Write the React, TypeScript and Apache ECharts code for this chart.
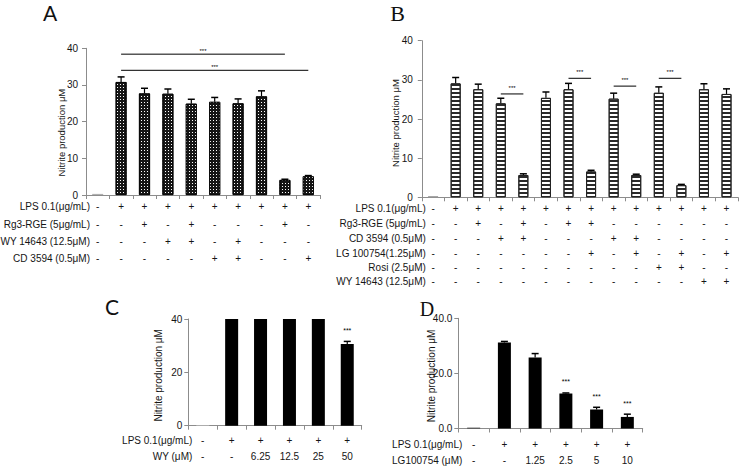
import React, { useEffect, useRef } from 'react';
import * as echarts from 'echarts';

// ---------- Panel A ----------
const valuesA = [0.3, 30.8, 27.7, 27.6, 24.9, 25.4, 25.0, 26.9, 4.1, 5.1];
const errorsA = [0, 1.4, 1.4, 1.3, 1.2, 1.2, 1.2, 1.5, 0.2, 0.2];
const starsA = ['', '', '', '', '', '', '', '', '', ''];
const rowNamesA = ['LPS 0.1(μg/mL)', 'Rg3-RGE (5μg/mL)', 'WY 14643 (12.5μM)', 'CD 3594 (0.5μM)'];
const rowsA = [
  ['-', '+', '+', '+', '+', '+', '+', '+', '+', '+'],
  ['-', '-', '+', '-', '+', '-', '-', '-', '+', '-'],
  ['-', '-', '-', '+', '+', '-', '+', '-', '-', '-'],
  ['-', '-', '-', '-', '-', '+', '+', '-', '-', '+'],
];
// [from column, to column, y value]
const sigA = [[1, 8, 38.4], [1, 9, 34.0]];

// ---------- Panel B ----------
const valuesB = [0.3, 29.1, 27.6, 24.0, 5.7, 25.4, 27.6, 6.6, 25.2, 5.7, 26.7, 3.1, 27.6, 26.4];
const errorsB = [0, 1.5, 1.3, 1.3, 0.3, 1.5, 1.5, 0.3, 1.4, 0.2, 1.5, 0.2, 1.4, 1.3];
const starsB = ['', '', '', '', '', '', '', '', '', '', '', '', '', ''];
const rowNamesB = ['LPS 0.1(μg/mL)', 'Rg3-RGE (5μg/mL)', 'CD 3594 (0.5μM)', 'LG 100754(1.25μM)', 'Rosi (2.5μM)', 'WY 14643 (12.5μM)'];
const rowsB = [
  ['-', '+', '+', '+', '+', '+', '+', '+', '+', '+', '+', '+', '+', '+'],
  ['-', '-', '+', '-', '+', '-', '+', '+', '-', '-', '-', '-', '-', '-'],
  ['-', '-', '-', '+', '+', '-', '-', '-', '+', '+', '-', '-', '-', '-'],
  ['-', '-', '-', '-', '-', '-', '-', '+', '-', '+', '-', '+', '-', '+'],
  ['-', '-', '-', '-', '-', '-', '-', '-', '-', '-', '+', '+', '-', '-'],
  ['-', '-', '-', '-', '-', '-', '-', '-', '-', '-', '-', '-', '+', '+'],
];
const sigB = [[3, 4, 26.4], [6, 7, 30.4], [8, 9, 28.4], [10, 11, 30.4]];

// ---------- Panel C ----------
const valuesC = [0.2, 40, 40, 40, 40, 30.6];
const errorsC = [0, 0, 0, 0, 0, 1.0];
const starsC = ['', '', '', '', '', '***'];
const rowNamesC = ['LPS 0.1(μg/mL)', 'WY (μM)'];
const rowsC = [
  ['-', '+', '+', '+', '+', '+'],
  ['-', '-', '6.25', '12.5', '25', '50'],
];

// ---------- Panel D ----------
const valuesD = [0.3, 31.2, 25.8, 12.7, 6.9, 4.2];
const errorsD = [0, 0.4, 1.4, 0.2, 0.8, 1.0];
const starsD = ['', '', '', '***', '***', '***'];
const rowNamesD = ['LPS 0.1(μg/mL)', 'LG100754 (μM)'];
const rowsD = [
  ['-', '+', '+', '+', '+', '+'],
  ['-', '-', '1.25', '2.5', '5', '10'],
];

const yTicksAB = 10;
const yTicksCD = 20;

const TXT = '#151515';
const AX = '#8c8c8c';
const FONT = 'Liberation Sans, Arial, sans-serif';

type Panel = {
  values: number[]; errors: number[]; stars: string[];
  rows: string[][]; rowNames: string[]; sig: number[][];
  grid: any; rowOffsets: number[]; interval: number; decimals: boolean;
  nameGap: number; nameSize: number; namePad: number; labelMargin: number;
  barWidth: number; itemStyle: any; zeroStyle: any; sigTextGap: number;
};

const panels: Panel[] = [
  {
    values: valuesA, errors: errorsA, stars: starsA, rows: rowsA, rowNames: rowNamesA, sig: sigA,
    grid: { left: 86, top: 48.3, width: 234, height: 146.7 },
    rowOffsets: [11.7, 29, 46, 63.3], interval: yTicksAB, decimals: false,
    nameGap: 20, nameSize: 9.5, namePad: 22, labelMargin: 8, barWidth: 11,
    itemStyle: {
      color: '#161616', borderColor: '#000', borderWidth: 0.8,
      decal: { symbol: 'rect', symbolSize: 1, dashArrayX: [1, 2], dashArrayY: [1, 2], color: '#ffffff' },
    },
    zeroStyle: { color: '#b0b0b0', borderWidth: 0 },
    sigTextGap: 3,
  },
  {
    values: valuesB, errors: errorsB, stars: starsB, rows: rowsB, rowNames: rowNamesB, sig: sigB,
    grid: { left: 421.8, top: 40.7, width: 316, height: 156.6 },
    rowOffsets: [10.7, 25.7, 40.7, 55.7, 69.7, 83.7], interval: yTicksAB, decimals: false,
    nameGap: 21, nameSize: 9.5, namePad: 8, labelMargin: 9, barWidth: 10,
    itemStyle: {
      color: '#ffffff', borderColor: '#222', borderWidth: 1,
      decal: { symbol: 'rect', symbolSize: 1, dashArrayX: [1, 0], dashArrayY: [1.2, 1.2], color: '#2a2a2a' },
    },
    zeroStyle: { color: '#999', borderWidth: 0 },
    sigTextGap: 6,
  },
  {
    values: valuesC, errors: errorsC, stars: starsC, rows: rowsC, rowNames: rowNamesC, sig: [],
    grid: { left: 188.3, top: 319, width: 173.4, height: 106.7 },
    rowOffsets: [14.3, 31], interval: yTicksCD, decimals: false,
    nameGap: 25, nameSize: 10, namePad: 6, labelMargin: 6, barWidth: 13,
    itemStyle: { color: '#000' },
    zeroStyle: { color: '#c8c8c8' },
    sigTextGap: 6,
  },
  {
    values: valuesD, errors: errorsD, stars: starsD, rows: rowsD, rowNames: rowNamesD, sig: [],
    grid: { left: 458.3, top: 318.3, width: 184.4, height: 110.2 },
    rowOffsets: [15.5, 32.2], interval: yTicksCD, decimals: true,
    nameGap: 22, nameSize: 10, namePad: 5, labelMargin: 6, barWidth: 13,
    itemStyle: { color: '#000' },
    zeroStyle: { color: '#333' },
    sigTextGap: 6,
  },
];

function buildOption() {
  const grid: any[] = [];
  const xAxis: any[] = [];
  const yAxis: any[] = [];
  const series: any[] = [];

  panels.forEach((p, gi) => {
    grid.push({ ...p.grid, containLabel: false, outerBoundsMode: 'none' });
    const cats = p.values.map((_, i) => String(i));
    const mainIdx = xAxis.length;
    xAxis.push({
      type: 'category', gridIndex: gi, data: cats, position: 'bottom',
      axisLine: { show: true, lineStyle: { color: AX, width: 1 } },
      axisTick: { show: true, length: 4, inside: false, lineStyle: { color: AX } },
      axisLabel: { show: false },
      splitLine: { show: false },
    });
    p.rows.forEach((row, r) => {
      xAxis.push({
        type: 'category', gridIndex: gi, data: cats, position: 'bottom', offset: p.rowOffsets[r],
        axisLine: { show: false }, axisTick: { show: false }, splitLine: { show: false },
        axisLabel: {
          show: true, interval: 0, margin: 0, verticalAlign: 'middle',
          fontSize: 10, color: TXT, fontFamily: FONT,
          formatter: (_v: string, i: number) => row[i],
        },
        name: p.rowNames[r], nameLocation: 'start', nameGap: -4, nameMoveOverlap: false,
        nameTextStyle: { fontSize: 10, color: TXT, fontFamily: FONT },
      });
    });
    yAxis.push({
      type: 'value', gridIndex: gi, min: 0, max: 40, interval: p.interval,
      axisLine: { show: true, lineStyle: { color: AX } },
      axisTick: { show: true, length: 4, lineStyle: { color: AX } },
      splitLine: { show: false },
      axisLabel: {
        fontSize: 10, color: TXT, margin: p.labelMargin, fontFamily: FONT,
        formatter: p.decimals ? (v: number) => v.toFixed(1) : (v: number) => String(v),
      },
      name: 'Nitrite production μM', nameLocation: 'middle', nameRotate: 90, nameGap: p.nameGap,
      nameMoveOverlap: false,
      nameTextStyle: { fontSize: p.nameSize, color: TXT, fontFamily: FONT, padding: [0, p.namePad, 0, 0] },
    });

    series.push({
      type: 'bar', xAxisIndex: mainIdx, yAxisIndex: gi, barWidth: p.barWidth,
      itemStyle: p.itemStyle, z: 2,
      data: p.values.map((v, i) => (i === 0 ? { value: v, itemStyle: { ...p.itemStyle, ...p.zeroStyle, decal: 'none' } } : v)),
    });

    const errs = p.errors;
    const stars = p.stars;
    series.push({
      type: 'custom', xAxisIndex: mainIdx, yAxisIndex: gi, z: 5,
      encode: { x: 0, y: 1 },
      data: p.values.map((v, i) => [i, v, errs[i]]),
      renderItem: (params: any, api: any) => {
        const i = params.dataIndex;
        const x = api.value(0);
        const v = api.value(1);
        const e = api.value(2);
        const base = api.coord([x, v]);
        const top = api.coord([x, v + e]);
        const children: any[] = [];
        if (e > 0) {
          children.push({ type: 'line', shape: { x1: base[0], y1: base[1], x2: top[0], y2: top[1] }, style: { stroke: '#000', lineWidth: 1.2 } });
          children.push({ type: 'line', shape: { x1: top[0] - 3.5, y1: top[1], x2: top[0] + 3.5, y2: top[1] }, style: { stroke: '#000', lineWidth: 1.5 } });
        }
        if (stars[i]) {
          children.push({
            type: 'text',
            style: {
              text: stars[i], x: top[0], y: top[1] - 11, align: 'center', verticalAlign: 'middle',
              textAlign: 'center', textVerticalAlign: 'middle', fontSize: 7, fontFamily: FONT, fill: '#000',
            },
          });
        }
        return { type: 'group', children };
      },
    });

    if (p.sig.length) {
      const gap = p.sigTextGap;
      series.push({
        type: 'custom', xAxisIndex: mainIdx, yAxisIndex: gi, z: 5,
        encode: { x: 0, y: 2 },
        data: p.sig,
        renderItem: (_params: any, api: any) => {
          const y = api.value(2);
          const a = api.coord([api.value(0), y]);
          const b = api.coord([api.value(1), y]);
          return {
            type: 'group',
            children: [
              { type: 'line', shape: { x1: a[0], y1: a[1], x2: b[0], y2: b[1] }, style: { stroke: '#000', lineWidth: 1 } },
              {
                type: 'text',
                style: {
                  text: '***', x: (a[0] + b[0]) / 2, y: a[1] - gap, align: 'center', verticalAlign: 'middle',
                  textAlign: 'center', textVerticalAlign: 'middle', fontSize: 6, fontFamily: FONT, fill: '#000',
                },
              },
            ],
          };
        },
      });
    }
  });

  const panelLabel = (text: string, x: number, y: number, size: number, family: string) => ({
    type: 'text', x, y,
    style: {
      text, fontSize: size, fontFamily: family, fill: '#111',
      align: 'center', verticalAlign: 'middle', textAlign: 'center', textVerticalAlign: 'middle',
    },
  });

  return {
    animation: false,
    backgroundColor: '#ffffff',
    textStyle: { fontFamily: FONT },
    grid, xAxis, yAxis, series,
    graphic: [
      panelLabel('A', 50, 12, 21, 'Lato, Open Sans, sans-serif'),
      panelLabel('B', 397.5, 13, 22, 'Liberation Serif, Times New Roman, serif'),
      panelLabel('C', 112, 306, 21, 'Lato, Open Sans, sans-serif'),
      panelLabel('D', 427, 309, 20, 'Liberation Serif, Times New Roman, serif'),
    ],
  };
}

export default function App() {
  const ref = useRef<HTMLDivElement>(null);
  useEffect(() => {
    if (!ref.current) return;
    const chart = echarts.init(ref.current, null, { renderer: 'svg' });
    chart.setOption(buildOption() as any);
    return () => chart.dispose();
  }, []);
  return (
    <div
      ref={ref}
      style={{ position: 'fixed', left: 0, top: 0, width: 740, height: 470, background: '#fff' }}
    />
  );
}
